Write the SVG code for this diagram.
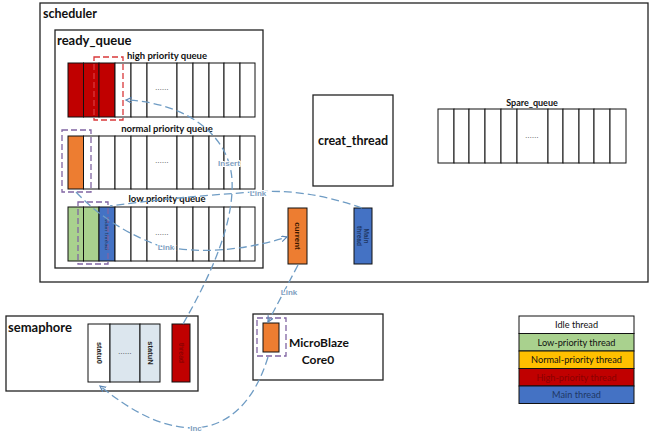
<svg xmlns="http://www.w3.org/2000/svg" width="650" height="436" viewBox="0 0 650 436">
<defs>
<style>
.box{fill:#fff;stroke:#222;stroke-width:1.3}
.cell{fill:#fff;stroke:#111;stroke-width:1}
.t{font-family:Lato,"Liberation Sans",sans-serif;fill:#111}
.v{font-family:"Liberation Sans",Arial,sans-serif}
.b{font-weight:bold}
.dots{font-family:"Liberation Sans",Arial,sans-serif;font-size:7px;fill:#222;letter-spacing:0.3px}
.con{fill:none;stroke:#6f9cc4;stroke-width:1.3;stroke-dasharray:8,4}
.lbl{font-family:"Liberation Sans",Arial,sans-serif;font-size:8px;font-weight:bold;fill:#7fa0c0;stroke:#fff;stroke-width:2;paint-order:stroke}
.pd{fill:none;stroke:#8064a2;stroke-width:1.3;stroke-dasharray:6,3}
.rd{fill:none;stroke:#d9383a;stroke-width:1.3;stroke-dasharray:6,3}
</style>
<marker id="ah" markerWidth="8" markerHeight="8" refX="6" refY="3" orient="auto" markerUnits="userSpaceOnUse">
<path d="M0,0 L6,3 L0,6" fill="none" stroke="#5b86b5" stroke-width="1.2"/>
</marker>
</defs>
<rect width="650" height="436" fill="#fff"/>

<g id="scheduler">
<rect class="box" x="40" y="3" width="608" height="279"/>
<text class="t b" x="43" y="18" font-size="12.5">scheduler</text>
</g>

<g id="ready_queue">
<rect class="box" x="55" y="30" width="208" height="238"/>
<text class="t b" x="57" y="45" font-size="13">ready_queue</text>
</g>

<g id="high_priority_queue">
<text class="t b" x="167" y="59" font-size="9.5" text-anchor="middle">high priority queue</text>
<rect class="cell" x="68" y="63" width="15.5" height="54" style="fill:#c00000"/>
<rect class="cell" x="83.5" y="63" width="15.5" height="54" style="fill:#c00000"/>
<rect class="cell" x="99" y="63" width="16" height="54" style="fill:#c00000"/>
<rect class="cell" x="115" y="63" width="16" height="54"/>
<rect class="cell" x="131" y="63" width="16" height="54"/>
<rect class="cell" x="147" y="63" width="30" height="54"/>
<rect class="cell" x="177" y="63" width="16" height="54"/>
<rect class="cell" x="193" y="63" width="16" height="54"/>
<rect class="cell" x="209" y="63" width="15" height="54"/>
<rect class="cell" x="224" y="63" width="16" height="54"/>
<rect class="cell" x="240" y="63" width="15" height="54"/>
<text class="dots" x="162" y="90" text-anchor="middle">......</text>
<rect class="rd" x="94" y="57" width="29" height="63"/>
</g>

<g id="normal_priority_queue">
<text class="t b" x="167" y="132" font-size="9.5" text-anchor="middle">normal priority queue</text>
<rect class="cell" x="68" y="136" width="15.5" height="53" style="fill:#ed7d31"/>
<rect class="cell" x="83.5" y="136" width="15.5" height="53"/>
<rect class="cell" x="99" y="136" width="16" height="53"/>
<rect class="cell" x="115" y="136" width="16" height="53"/>
<rect class="cell" x="131" y="136" width="16" height="53"/>
<rect class="cell" x="147" y="136" width="30" height="53"/>
<rect class="cell" x="177" y="136" width="16" height="53"/>
<rect class="cell" x="193" y="136" width="16" height="53"/>
<rect class="cell" x="209" y="136" width="15" height="53"/>
<rect class="cell" x="224" y="136" width="16" height="53"/>
<rect class="cell" x="240" y="136" width="15" height="53"/>
<text class="dots" x="162" y="163" text-anchor="middle">......</text>
<rect class="pd" x="62" y="130" width="29" height="62"/>
</g>

<g id="low_priority_queue">
<text class="t b" x="167" y="202" font-size="9.5" text-anchor="middle">low priority queue</text>
<rect class="cell" x="68" y="207" width="15.5" height="54" style="fill:#a9d18e"/>
<rect class="cell" x="83.5" y="207" width="15.5" height="54" style="fill:#a9d18e"/>
<rect class="cell" x="99" y="207" width="16" height="54" style="fill:#4472c4"/>
<rect class="cell" x="115" y="207" width="16" height="54"/>
<rect class="cell" x="131" y="207" width="16" height="54"/>
<rect class="cell" x="147" y="207" width="30" height="54"/>
<rect class="cell" x="177" y="207" width="16" height="54"/>
<rect class="cell" x="193" y="207" width="16" height="54"/>
<rect class="cell" x="209" y="207" width="15" height="54"/>
<rect class="cell" x="224" y="207" width="16" height="54"/>
<rect class="cell" x="240" y="207" width="15" height="54"/>
<text class="dots" x="162" y="235" text-anchor="middle">......</text>
<text class="v" x="0" y="0" font-size="6" fill="#1f3864" text-anchor="middle" transform="translate(105,234) rotate(90)">Main thread</text>
<rect class="pd" x="78" y="202" width="30" height="62"/>
</g>

<g id="creat_thread">
<rect class="box" x="313" y="95" width="80" height="91"/>
<text class="t b" x="353" y="145" font-size="12.5" text-anchor="middle">creat_thread</text>
</g>

<g id="spare_queue">
<text class="t b" x="532" y="106" font-size="9" text-anchor="middle">Spare_queue</text>
<rect class="cell" x="438" y="109" width="16" height="54"/>
<rect class="cell" x="454" y="109" width="15" height="54"/>
<rect class="cell" x="469" y="109" width="16" height="54"/>
<rect class="cell" x="485" y="109" width="16" height="54"/>
<rect class="cell" x="501" y="109" width="16" height="54"/>
<rect class="cell" x="517" y="109" width="31" height="54"/>
<rect class="cell" x="548" y="109" width="15" height="54"/>
<rect class="cell" x="563" y="109" width="16" height="54"/>
<rect class="cell" x="579" y="109" width="15" height="54"/>
<rect class="cell" x="594" y="109" width="16" height="54"/>
<rect class="cell" x="610" y="109" width="16" height="54"/>
<text class="dots" x="532" y="138" text-anchor="middle">......</text>
</g>

<g id="current">
<rect class="cell" x="288" y="208" width="19" height="56" style="fill:#ed7d31"/>
<text class="v b" x="0" y="0" font-size="8" fill="#3a1800" text-anchor="middle" transform="translate(294.5,236) rotate(90)">current</text>
</g>

<g id="main_thread">
<rect class="cell" x="354" y="208" width="18" height="56" style="fill:#4472c4"/>
<text class="v b" x="0" y="0" font-size="6.5" fill="#1f3864" text-anchor="middle" transform="translate(363,236) rotate(90)"><tspan x="0" dy="-1">Main</tspan><tspan x="0" dy="7">thread</tspan></text>
</g>

<g id="semaphore">
<rect class="box" x="6" y="316" width="192" height="75"/>
<text class="t b" x="8" y="332" font-size="13">semaphore</text>
<rect class="cell" x="88" y="324" width="22" height="58"/>
<rect class="cell" x="110" y="324" width="30" height="58" style="fill:#dce6ee"/>
<rect class="cell" x="140" y="324" width="20" height="58" style="fill:#dce6ee"/>
<text class="v b" x="0" y="0" font-size="7.5" fill="#222" text-anchor="middle" transform="translate(96.5,353) rotate(90)">statu0</text>
<text class="dots" x="125" y="354" text-anchor="middle">......</text>
<text class="v b" x="0" y="0" font-size="7.5" fill="#222" text-anchor="middle" transform="translate(147.5,353) rotate(90)">statuN</text>
</g>

<g id="sem_thread">
<rect class="cell" x="172" y="324" width="18" height="58" style="fill:#c00000"/>
<text class="v" x="0" y="0" font-size="7" fill="#7a0000" text-anchor="middle" transform="translate(178.5,353) rotate(90)">thread</text>
</g>

<g id="microblaze">
<rect class="box" x="253" y="314" width="130" height="66"/>
<rect class="cell" x="263" y="323" width="16" height="29" style="fill:#ed7d31"/>
<rect class="pd" x="257" y="318" width="29" height="38"/>
<text class="t b" x="289" y="347" font-size="12">MicroBlaze</text>
<text class="t b" x="318" y="364" font-size="12" text-anchor="middle">Core0</text>
</g>

<g id="legend">
<rect class="cell" x="519" y="316" width="115" height="17.5"/>
<rect class="cell" x="519" y="333.5" width="115" height="17.5" style="fill:#a9d18e"/>
<rect class="cell" x="519" y="351" width="115" height="17.5" style="fill:#ffc000"/>
<rect class="cell" x="519" y="368.5" width="115" height="17.5" style="fill:#c00000"/>
<rect class="cell" x="519" y="386" width="115" height="17.5" style="fill:#4472c4"/>
<text class="t" x="576.5" y="328" font-size="9.2" text-anchor="middle">Idle thread</text>
<text class="t" x="576.5" y="345.5" font-size="9.2" text-anchor="middle">Low-priority thread</text>
<text class="t" x="576.5" y="363" font-size="9.2" text-anchor="middle">Normal-priority thread</text>
<text class="t" x="576.5" y="380.5" font-size="9.2" style="fill:#8a0000" text-anchor="middle">High-priority thread</text>
<text class="t" x="576.5" y="398" font-size="9.2" style="fill:#1f3864" text-anchor="middle">Main thread</text>
</g>

<g id="connectors">
<path class="con" d="M183,324 C215,268 234,220 232,180 C230,138 190,103 126,100" marker-end="url(#ah)"/>
<text class="lbl" x="229" y="166" text-anchor="middle">Insert</text>
<path class="con" d="M362,208 Q305,188 255,192 Q175,197 110,206"/>
<text class="lbl" x="258" y="196" text-anchor="middle">Link</text>
<path class="con" d="M76,192 Q110,228 160,246 Q220,258 287,237" marker-end="url(#ah)"/>
<text class="lbl" x="166" y="250" text-anchor="middle">Link</text>
<path class="con" d="M298,265 L268,322" marker-end="url(#ah)"/>
<text class="lbl" x="289" y="295" text-anchor="middle">Link</text>
<path class="con" d="M268,357 C255,400 230,426 195,428 C160,428 130,410 100,386" marker-end="url(#ah)"/>
<text class="lbl" x="196" y="431" text-anchor="middle">Inc</text>
</g>
</svg>
